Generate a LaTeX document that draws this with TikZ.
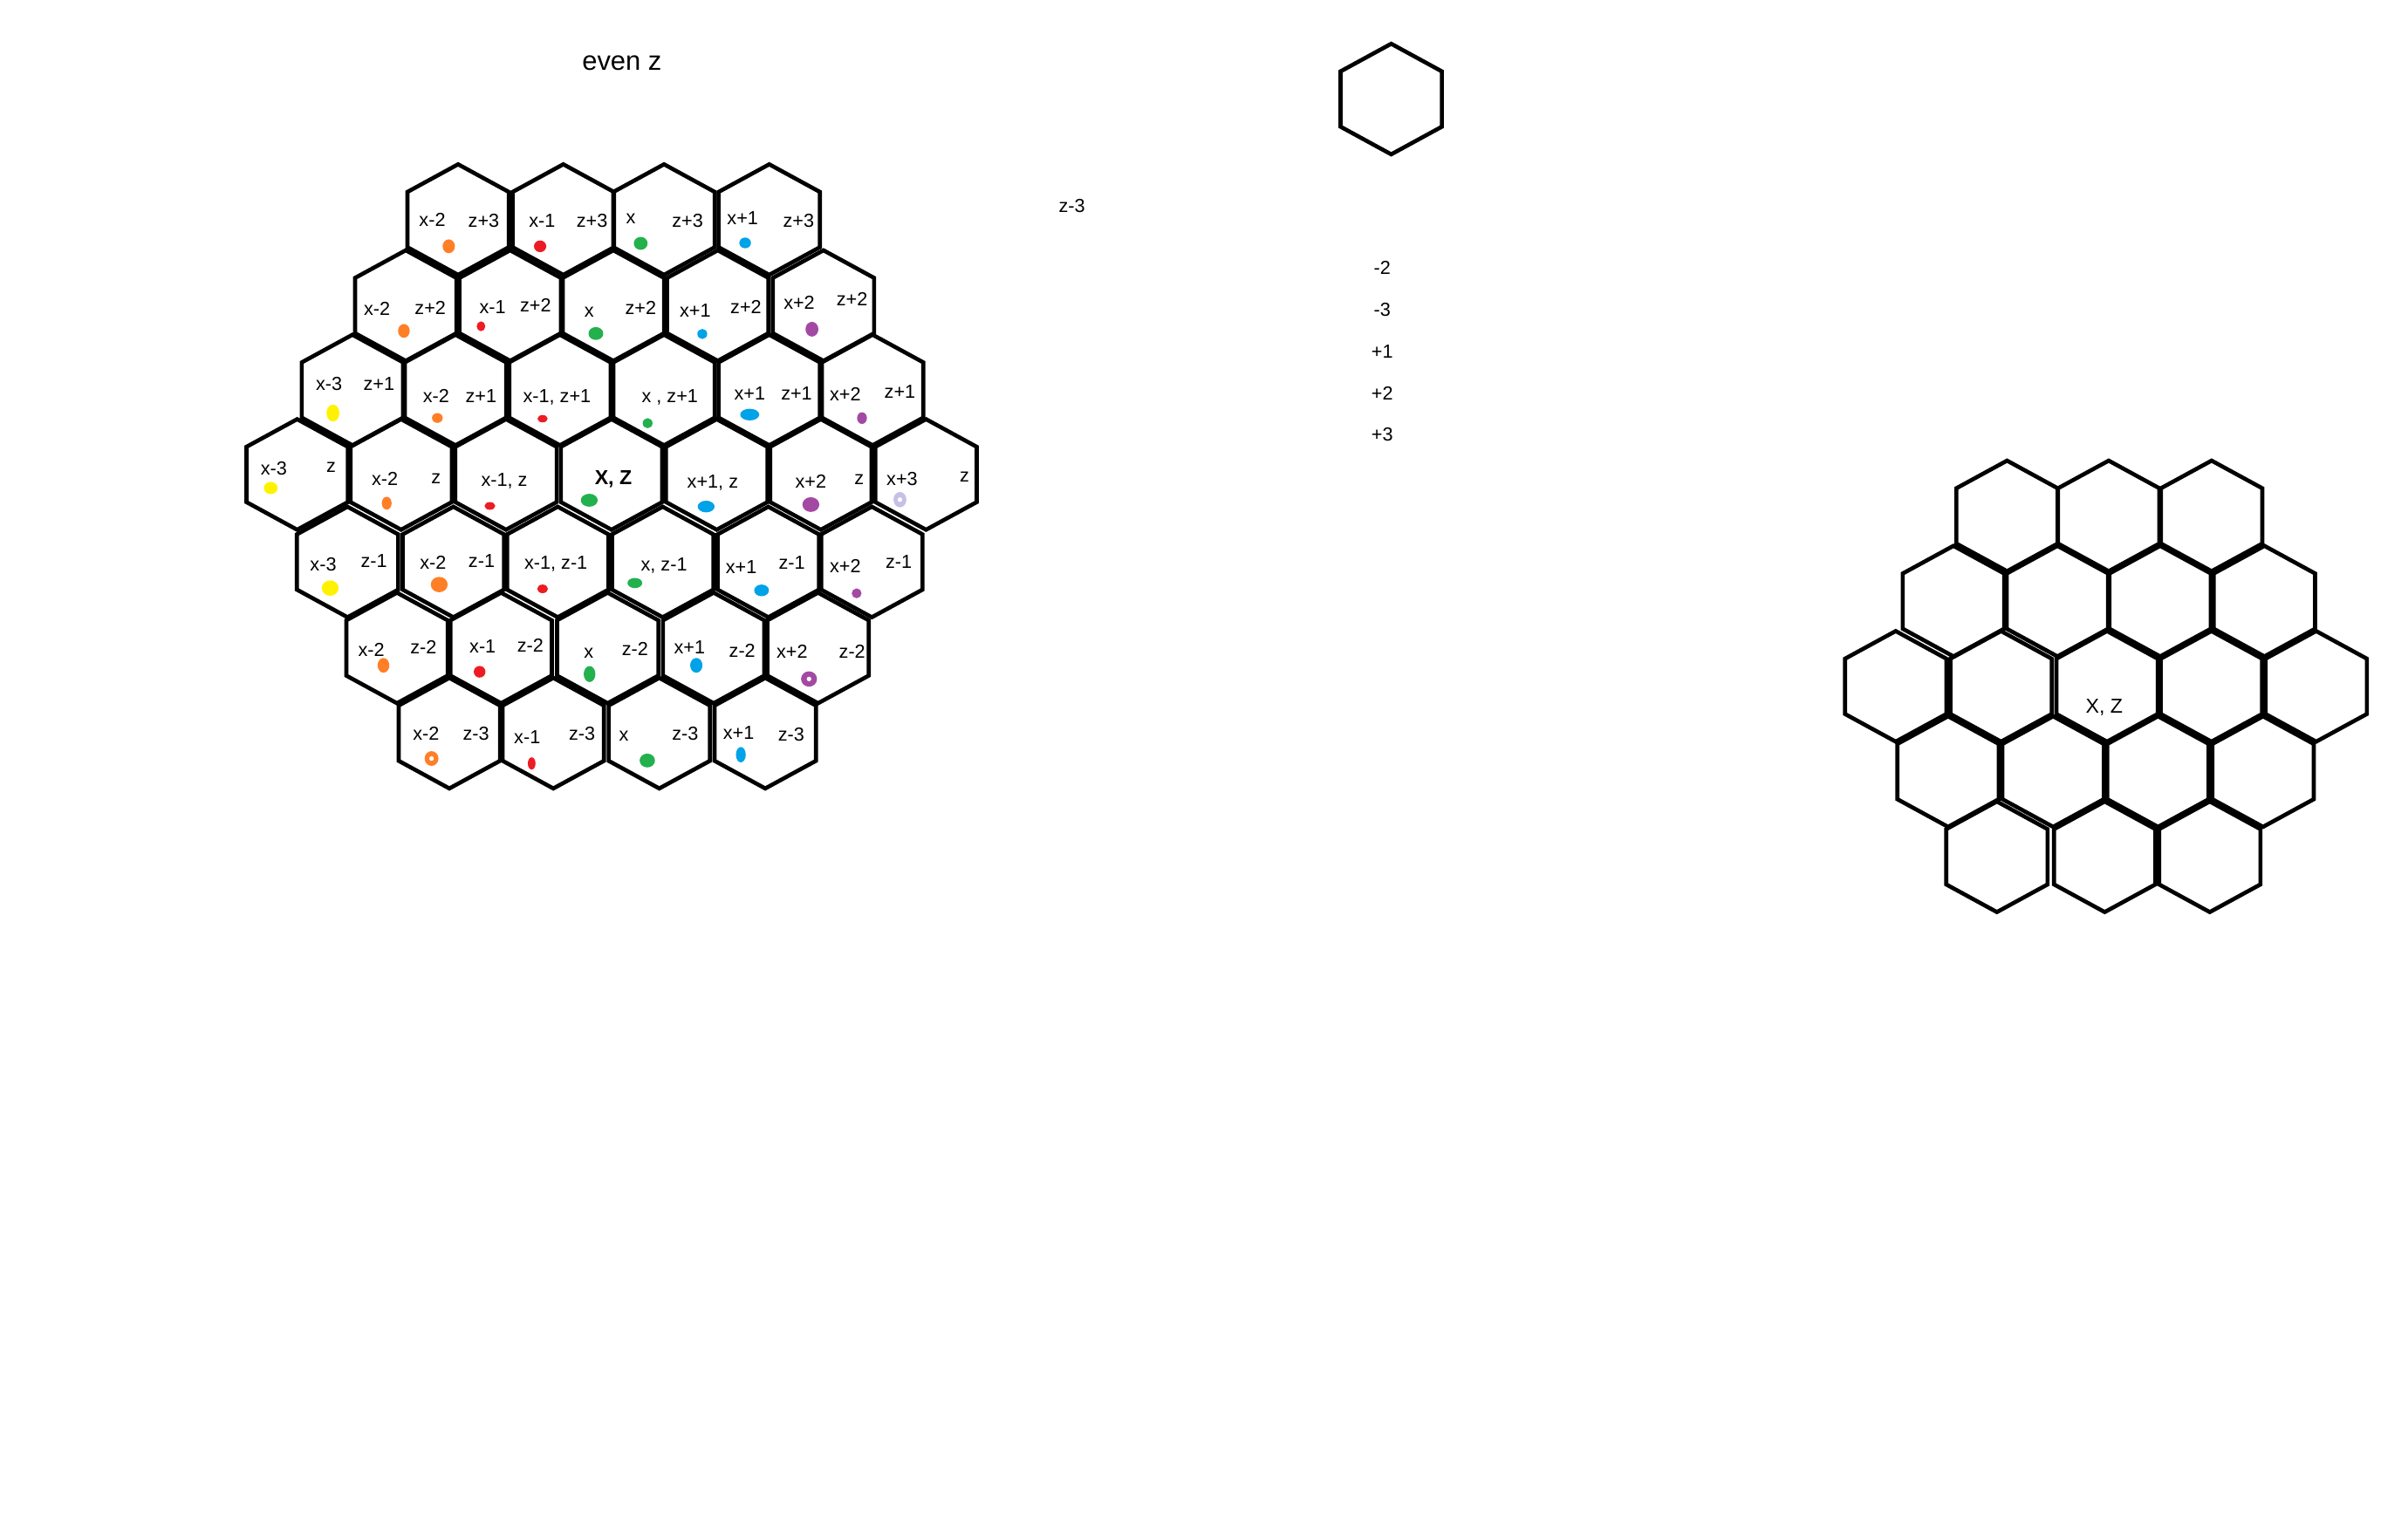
\documentclass[tikz,border=0pt]{standalone}
\usepackage{fontspec}
\setmainfont{Liberation Sans}
\usepackage{tikz}
\definecolor{pOrange}{HTML}{FF7F27}
\definecolor{pRed}{HTML}{ED1C24}
\definecolor{pGreen}{HTML}{22B14C}
\definecolor{pBlue}{HTML}{00A2E8}
\definecolor{pPurple}{HTML}{A349A4}
\definecolor{pYellow}{HTML}{FFF200}
\definecolor{pLilac}{HTML}{C8BFE7}

\begin{document}
\begin{tikzpicture}[x=0.2mm,y=-0.2mm,
  hexline/.style={line width=1.5pt,line join=miter},
  hexcell/.pic={\draw[hexline] (0,-36) -- (33,-18) -- (33,18) -- (0,36) -- (-33,18) -- (-33,-18) -- cycle;},
  lbl/.style={inner sep=0pt,font=\fontsize{7}{8}\selectfont},
  big/.style={inner sep=0pt,font=\fontsize{7.5}{9}\selectfont}]
\path[fill=white] (0,0) rectangle (1568,1001);
% titles and loose notes
\node[inner sep=0pt,font=\fontsize{10}{12}\selectfont] (title) at (405,41) {even z};
\pic at (905.9,64.5) {hexcell};
\node[lbl] (zthree) at (698,134) {z-3};
\foreach \t/\ny [count=\i] in {-2/174.5,-3/201.5,+1/229,+2/256,+3/283}
  \node[lbl] (off\i) at (900,\ny) {\t};
% left grid, even z
\foreach \cx in {298.3,366.8,432.4,500.9} \pic at (\cx,143) {hexcell};
\foreach \cx in {264.2,332.2,399.4,467.4,536.2} \pic at (\cx,199) {hexcell};
\foreach \cx in {229.5,296.6,364.6,432.4,500.9,568.2} \pic at (\cx,254) {hexcell};
\foreach \cx in {193.5,261.2,329.5,398.2,466.7,534.5,603} \pic at (\cx,309) {hexcell};
\foreach \cx in {226.3,295.2,363.2,431.5,500.3,567.7} \pic at (\cx,366) {hexcell};
\foreach \cx in {258.5,326.3,395.7,464.7,532.7} \pic at (\cx,422) {hexcell};
\foreach \cx in {292.6,360.3,429.3,498.3} \pic at (\cx,477.5) {hexcell};
% labels
\foreach \t/\lx/\ly [count=\i] in {x-2/281.5/143.4,z+3/315/143.6,x-1/353/143.6,z+3/385.5/143.6,
    x/410.8/142.4,z+3/447.7/143.6,x+1/483.6/142,z+3/520/143.6}
  \node[lbl] (rA\i) at (\lx,\ly) {\t};
\foreach \t/\lx/\ly [count=\i] in {x-2/245.5/200.8,z+2/280.2/200.5,x-1/320.8/199.8,z+2/348.7/198.9,
    x/383.7/203,z+2/417.2/200.5,x+1/452.7/202,z+2/485.7/199.8,x+2/520.4/197,z+2/554.8/195}
  \node[lbl] (rB\i) at (\lx,\ly) {\t};
\foreach \t/\lx/\ly [count=\i] in {x-3/214.2/250,z+1/246.8/250,x-2/284/258,z+1/313.2/257.7,
    {x-1, z+1}/362.7/259,{x , z+1}/436.2/259,x+1/488.2/256,z+1/518.7/256.4,x+2/550.4/256.6,z+1/586/255.3}
  \node[lbl] (rC\i) at (\lx,\ly) {\t};
\foreach \t/\lx/\ly [count=\i] in {x-3/178.3/305.3,z/215.6/304.5,x-2/250.6/312.1,z/284/311.5,
    {x-1, z}/328.4/313.4,{x+1, z}/464.1/314.4,x+2/528/313.4,z/559.5/312.5,x+3/587.4/312,z/628/310.8}
  \node[lbl] (rD\i) at (\lx,\ly) {\t};
\node[big,font=\fontsize{7.5}{9}\selectfont\bfseries] (xz) at (399.4,312) {X, Z};
\foreach \t/\lx/\ly [count=\i] in {x-3/210.5/367.4,z-1/243.5/365.5,x-2/282/366.5,z-1/313.6/365.5,
    {x-1, z-1}/362/367,{x, z-1}/432.4/368.4,x+1/482.7/369.3,z-1/515.6/366.5,x+2/550.4/368.4,z-1/585.2/366}
  \node[lbl] (rE\i) at (\lx,\ly) {\t};
\foreach \t/\lx/\ly [count=\i] in {x-2/241.8/423.3,z-2/275.7/421.4,x-1/314.3/420.8,z-2/345.3/420.5,
    x/383.3/425.2,z-2/413.5/422.7,x+1/449/421.4,z-2/483.3/423.9,x+2/515.8/424.6,z-2/554.9/424.2}
  \node[lbl] (rF\i) at (\lx,\ly) {\t};
\foreach \t/\lx/\ly [count=\i] in {x-2/277.5/477.8,z-3/310/477.6,x-1/343.3/480.1,z-3/379/477.8,
    x/406.2/479.2,z-3/446.2/477.8,x+1/481/477.3,z-3/515.2/478.4}
  \node[lbl] (rG\i) at (\lx,\ly) {\t};
% coloured marks
\foreach \c/\dx/\dy/\rx/\ry in {
    pOrange/292.2/160.4/4/4.5,pRed/351.7/160.4/4/3.8,pGreen/417.2/158.5/4.5/4.2,pBlue/485.2/158.2/3.8/3.5,
    pOrange/263/215.5/3.8/4.5,pRed/313.2/212.5/2.8/3.2,pGreen/388/217.2/4.8/4.2,pBlue/457.3/217.5/3.2/3.3,pPurple/528.7/214.4/4.2/4.8,
    pYellow/216.8/269/4.2/5.5,pOrange/284.8/272.2/3.5/3.2,pRed/353.3/272.7/3.3/2.4,pGreen/421.7/275.6/3.2/3.3,pBlue/488.2/270/6.2/3.8,pPurple/561.3/272.3/3.2/3.8,
    pYellow/176.3/317.8/4.5/4,pOrange/251.8/327.7/3.2/4.2,pRed/319/329.5/3.5/2.5,pGreen/383.7/325.8/5.5/4.2,pBlue/459.8/329.9/5.5/3.8,pPurple/528/328.6/5.5/4.8,pLilac/586/325.4/4.2/5,
    pYellow/215/383/5.5/5,pOrange/286/380.7/5.5/5,pRed/353.3/383.5/3.5/2.8,pGreen/413.4/379.7/4.8/3.3,pBlue/495.9/384.5/4.8/3.8,pPurple/557.8/386.4/3.2/3.2,
    pOrange/249.7/433.3/3.8/4.8,pRed/312.3/437.5/3.8/3.8,pGreen/383.9/439/3.8/5.2,pBlue/453.4/433.3/4/4.8,pPurple/526.8/442.2/5.2/5,
    pOrange/281/494/4.5/4.8,pRed/346.2/497.2/2.5/4,pGreen/421.5/495.3/5/4.5,pBlue/482.4/491.5/3.2/5}
  \fill[\c] (\dx,\dy) ellipse [x radius=\rx*0.2mm,y radius=\ry*0.2mm];
\foreach \dx/\dy in {281/494,526.8/442.2,586/325.4}
  \fill[white] (\dx,\dy) circle [radius=0.3mm];
% right grid
\foreach \cx in {1306.9,1373.1,1440.1} \pic at (\cx,336) {hexcell};
\foreach \cx in {1272,1339.7,1406.6,1474.5} \pic at (\cx,391.5) {hexcell};
\foreach \cx in {1234.4,1303,1372,1440,1508.2} \pic at (\cx,447) {hexcell};
\foreach \cx in {1268.5,1336.9,1405.2,1473.6} \pic at (\cx,502.5) {hexcell};
\foreach \cx in {1300.3,1370.5,1438.9} \pic at (\cx,558) {hexcell};
\node[big] (xz2) at (1370.2,461) {X, Z};
\end{tikzpicture}
\end{document}
